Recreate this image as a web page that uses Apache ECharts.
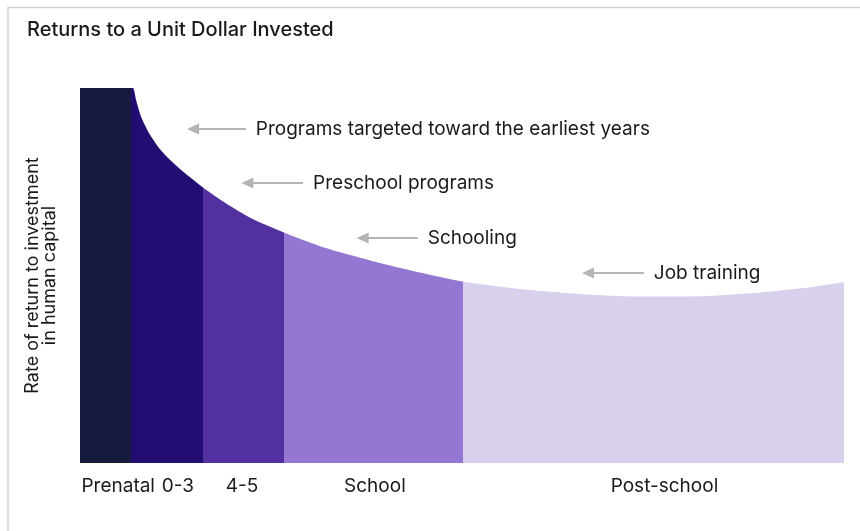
<!DOCTYPE html>
<html>
<head>
<meta charset="utf-8">
<script src="https://cdn.jsdelivr.net/npm/echarts@6/dist/echarts.min.js"></script>
<style>
  html, body { margin: 0; padding: 0; background: #fff; }
  #chart { width: 860px; height: 531px; }
</style>
</head>
<body>
<div id="chart"></div>
<script>
// Life stages along the horizontal axis (0 = conception, 100 = end of working life)
const stageNames = ['Prenatal', '0-3', '4-5', 'School', 'Post-school'];
const stageEdges = [0, 6.7, 16.1, 26.7, 50.1, 100];
const stageLabelX = [5.0, 12.8, 21.2, 38.6, 76.5];

// Rate of return to a dollar invested at each point in life (relative scale, 100 = highest)
const curveX = [0, 6.7, 6.94, 7.37, 8.02, 9.12, 10.64, 12.83, 16.1, 18.94, 22.21, 26.7,
                32.07, 38.22, 44.5, 50.1, 57.59, 65.45, 73.3, 81.15, 89.01, 95.55, 100];
const curveY = [100, 100, 100, 96.6, 92.2, 87.7, 83.3, 78.9, 73.5, 69.5, 65.5, 61.5,
                57.4, 53.9, 50.8, 48.4, 46.4, 45.1, 44.4, 44.5, 45.5, 46.9, 48.3];

// Call-outs naming the kind of program that fits each stage
const noteTexts = ['Programs targeted toward the earliest years', 'Preschool programs', 'Schooling', 'Job training'];
const noteTipX = [14.8, 21.9, 37.0, 66.5];
const noteTailX = [21.7, 29.2, 44.2, 73.8];
const noteY = [89.1, 74.7, 60.0, 50.7];

const stageColors = ['#161a3c', '#230d72', '#5230a0', '#9477d2', '#d9d0ee'];
const FONT = 'Inter, Roboto, sans-serif';
const INK = '#1a1a1a';

// Return curve: one smooth filled line, coloured per life stage through the visual map
const curveSeries = {
  name: 'return',
  type: 'line',
  smooth: 0.25,
  symbol: 'none',
  silent: true,
  data: curveX.map((x, k) => [x, curveY[k]]),
  lineStyle: { width: 0 },
  areaStyle: { opacity: 1 },
  z: 2
};

const noteSeries = {
  name: 'notes',
  type: 'line',
  data: [],
  silent: true,
  markLine: {
    silent: true,
    animation: false,
    symbol: ['triangle', 'none'],
    symbolSize: [11, 12],
    lineStyle: { color: '#b4b4b4', width: 2, type: 'solid' },
    label: {
      show: true,
      position: 'end',
      distance: 10,
      formatter: '{b}',
      color: INK,
      fontFamily: FONT,
      fontSize: 19
    },
    emphasis: { disabled: true },
    data: noteTexts.map((t, i) => [
      { name: t, coord: [noteTipX[i], noteY[i]] },
      { coord: [noteTailX[i], noteY[i]] }
    ])
  }
};

const last = stageNames.length - 1;
const stagePieces = stageNames.map((name, j) => ({
  gte: j === 0 ? stageEdges[0] - 1 : stageEdges[j],
  lt: j === last ? stageEdges[j + 1] + 1 : stageEdges[j + 1],
  color: stageColors[j]
}));

const chart = echarts.init(document.getElementById('chart'), null, { renderer: 'canvas' });
chart.setOption({
  animation: false,
  backgroundColor: '#ffffff',
  title: {
    text: 'Returns to a Unit Dollar Invested',
    left: 22,
    top: 15,
    textStyle: { color: INK, fontFamily: FONT, fontSize: 20, fontWeight: 500 }
  },
  graphic: [{
    type: 'polyline',
    shape: { points: [[8, 531], [8, 7.5], [860, 7.5]] },
    style: { stroke: '#d2d2d2', lineWidth: 1.5, fill: null },
    silent: true
  }],
  visualMap: {
    type: 'piecewise',
    show: false,
    dimension: 0,
    seriesIndex: 0,
    pieces: stagePieces
  },
  grid: { left: 80, right: 16, top: 88, bottom: 68, containLabel: false },
  xAxis: {
    type: 'value',
    min: 0,
    max: 100,
    axisLine: { show: false },
    axisTick: { show: false },
    splitLine: { show: false },
    axisLabel: {
      customValues: stageLabelX,
      formatter: v => stageNames[stageLabelX.indexOf(v)],
      margin: 14,
      color: INK,
      fontFamily: FONT,
      fontSize: 19
    }
  },
  yAxis: {
    type: 'value',
    min: 0,
    max: 100,
    axisLine: { show: false },
    axisTick: { show: false },
    axisLabel: { show: false },
    splitLine: { show: false },
    name: 'Rate of return to investment\nin human capital',
    nameLocation: 'middle',
    nameGap: 22,
    nameTextStyle: { color: INK, fontFamily: FONT, fontSize: 18, lineHeight: 17, align: 'center' }
  },
  series: [curveSeries, noteSeries]
});
</script>
</body>
</html>
